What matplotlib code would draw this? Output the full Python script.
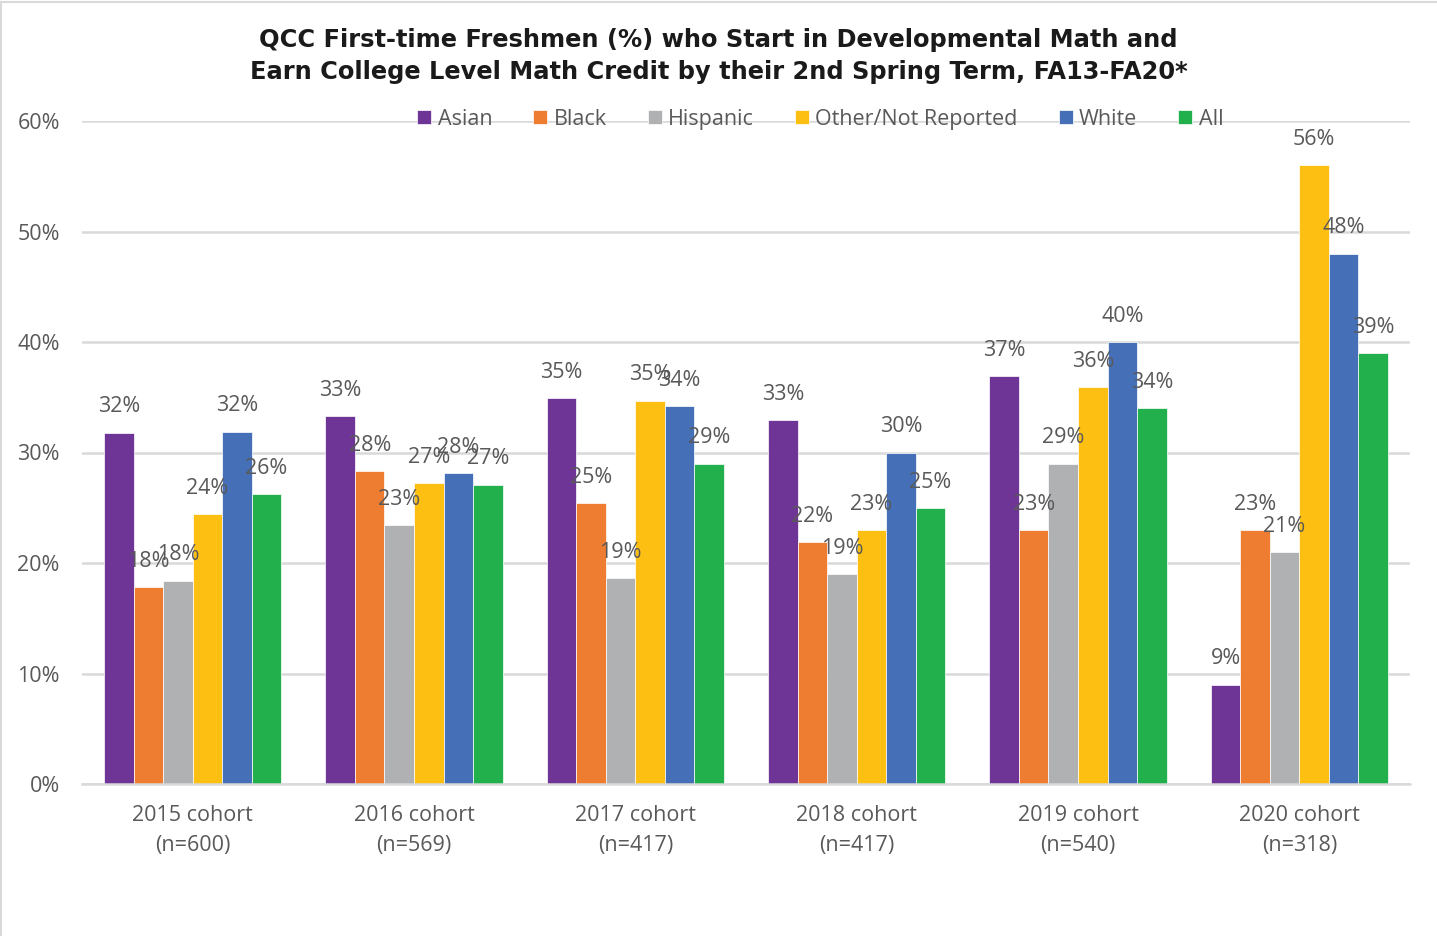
import matplotlib
matplotlib.use("Agg")
import matplotlib.pyplot as plt
import numpy as np
from matplotlib.lines import Line2D

# Cohorts and their sizes
cohorts = ["2015 cohort", "2016 cohort", "2017 cohort", "2018 cohort", "2019 cohort", "2020 cohort"]
cohort_n = [600, 569, 417, 417, 540, 318]

# Percent of first-time freshmen earning college-level math credit
groups = ["Asian", "Black", "Hispanic", "Other/Not Reported", "White", "All"]
asian = [31.8, 33.3, 34.9, 32.9, 36.9, 9.0]
black = [17.8, 28.3, 25.4, 21.9, 23.0, 23.0]
hispanic = [18.4, 23.4, 18.6, 19.0, 29.0, 21.0]
other = [24.4, 27.2, 34.7, 23.0, 35.9, 56.0]
white = [31.9, 28.1, 34.2, 30.0, 40.0, 48.0]
all_students = [26.2, 27.1, 29.0, 25.0, 34.0, 39.0]

series = [asian, black, hispanic, other, white, all_students]
colors = ["#6E3596", "#EE7D31", "#B0B1B3", "#FCBF12", "#4570B8", "#22B04D"]

ytick_vals = [0, 10, 20, 30, 40, 50, 60]

text_color = "#595959"
grid_color = "#D9D9D9"
font = "Open Sans"
fs = 15.5

fig = plt.figure(figsize=(14.37, 9.36), dpi=100)
ax = fig.add_axes([82 / 1437, 1 - 784 / 936, (1410 - 82) / 1437, (784 - 121) / 936])

x = np.arange(len(cohorts))
n_series = len(series)
width = 0.8 / n_series

for i, (name, vals, col) in enumerate(zip(groups, series, colors)):
    pos = x - 0.4 + width * (i + 0.5)
    ax.bar(pos, vals, width=width, color=col, edgecolor="white",
           linewidth=0.5, label=name, zorder=3)
    for xp, v in zip(pos, vals):
        ax.annotate(f"{round(v)}%", xy=(xp, v), xytext=(0, 18.5),
                    textcoords="offset points", ha="center", va="center",
                    fontsize=fs, color=text_color, family=font, zorder=4)

ax.set_xlim(-0.5, len(cohorts) - 0.5)
ax.set_ylim(0, 60)
ax.set_yticks(ytick_vals)
ax.set_yticklabels([f"{v}%" for v in ytick_vals], fontsize=fs, color=text_color, family=font)
ax.set_xticks(x)
ax.set_xticklabels([f"{c}\n(n={n})" for c, n in zip(cohorts, cohort_n)],
                   fontsize=fs, color=text_color, family=font, linespacing=1.6)
ax.tick_params(axis="both", length=0)
ax.tick_params(axis="y", pad=16)
ax.tick_params(axis="x", pad=15)

ax.grid(axis="y", color=grid_color, linewidth=1.8, zorder=0)
for s in ["top", "right", "left"]:
    ax.spines[s].set_visible(False)
ax.spines["bottom"].set_color(grid_color)
ax.spines["bottom"].set_linewidth(1.8)
ax.spines["bottom"].set_zorder(5)

leg = ax.legend(loc="center", bbox_to_anchor=(0.556, 1.003), ncol=6, frameon=False,
                handlelength=0.65, handleheight=0.65, handletextpad=0.3,
                columnspacing=1.9, prop={"family": font, "size": fs})
for t in leg.get_texts():
    t.set_color(text_color)

fig.text(0.5, 1 - 56 / 936,
         "QCC First-time Freshmen (%) who Start in Developmental Math and\n"
         "Earn College Level Math Credit by their 2nd Spring Term, FA13-FA20*",
         ha="center", va="center", fontsize=17.4, fontweight="bold",
         color="#1A1A1A", family="DejaVu Sans", linespacing=1.42)

# Thin frame along the top and left edges of the figure
fig.add_artist(Line2D([1.5 / 1437, 1.5 / 1437], [0, 1 - 2 / 936], transform=fig.transFigure,
                      color=grid_color, linewidth=1.5))
fig.add_artist(Line2D([1.5 / 1437, 1], [1 - 2 / 936, 1 - 2 / 936], transform=fig.transFigure,
                      color=grid_color, linewidth=1.5))

fig.savefig("out.png", dpi=100, facecolor="white")
